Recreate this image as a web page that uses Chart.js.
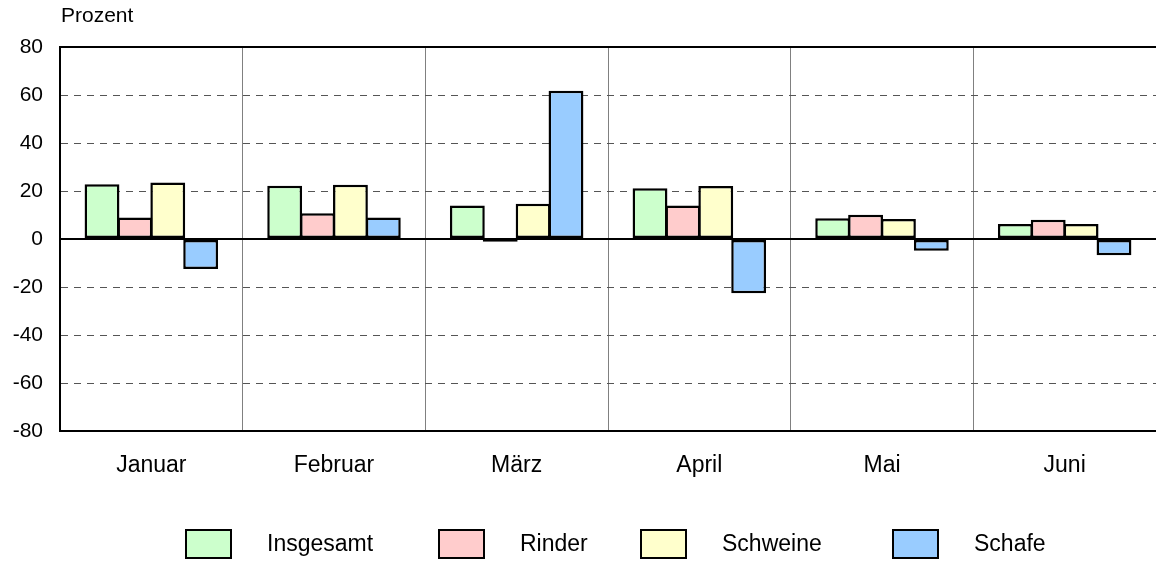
<!DOCTYPE html>
<html>
<head>
<meta charset="utf-8">
<script src="https://cdn.jsdelivr.net/npm/chart.js@4.4.1/dist/chart.umd.min.js"></script>
<style>
html, body { margin: 0; padding: 0; background: #fff; }
#wrap { position: relative; width: 1156px; height: 562px; }
</style>
</head>
<body>
<div id="wrap"><canvas id="c"></canvas></div>
<script>
const categories = ['Januar', 'Februar', 'März', 'April', 'Mai', 'Juni'];
const seriesNames = ['Insgesamt', 'Rinder', 'Schweine', 'Schafe'];
const insgesamt = [22.8, 22.2, 14.0, 21.1, 8.6, 6.2];
const rinder    = [9.0, 10.7, -1.1, 14.0, 10.1, 8.0];
const schweine  = [23.5, 22.6, 14.7, 22.1, 8.3, 6.2];
const schafe    = [-12.5, 9.0, 61.8, -22.6, -4.9, -6.8];
const yTicks = [-80, -60, -40, -20, 0, 20, 40, 60, 80];
const axisTitle = 'Prozent';

const colors = ['#CCFFCC', '#FFCCCC', '#FFFFCC', '#99CCFF'];
const seriesValues = [insgesamt, rinder, schweine, schafe];

Chart.defaults.font.family = "'Liberation Sans', Arial, sans-serif";
Chart.defaults.color = '#000';

const solidVals = v => v === 0 || v === 80 || v === -80;

const extras = {
  id: 'extras',
  afterDraw(chart) {
    const ctx = chart.ctx;
    const area = chart.chartArea;
    ctx.save();
    // axis title
    ctx.fillStyle = '#000';
    ctx.font = "21px 'Liberation Sans', Arial, sans-serif";
    ctx.textAlign = 'left';
    ctx.textBaseline = 'middle';
    ctx.fillText(axisTitle, area.left + 1, 16);
    // legend
    const boxX = [185, 438, 640, 892];
    const boxY = 529, boxW = 47, boxH = 30;
    ctx.font = "23px 'Liberation Sans', Arial, sans-serif";
    chart.data.datasets.forEach((ds, i) => {
      ctx.fillStyle = ds.backgroundColor;
      ctx.fillRect(boxX[i], boxY, boxW, boxH);
      ctx.strokeStyle = '#000';
      ctx.lineWidth = 2;
      ctx.strokeRect(boxX[i] + 1, boxY + 1, boxW - 2, boxH - 2);
      ctx.fillStyle = '#000';
      ctx.fillText(ds.label, boxX[i] + 82, boxY + boxH / 2 + 1);
    });
    ctx.restore();
  }
};

new Chart(document.getElementById('c'), {
  type: 'bar',
  data: {
    labels: categories,
    datasets: seriesNames.map((name, i) => ({
      label: name,
      data: seriesValues[i],
      backgroundColor: colors[i],
      borderColor: '#000',
      borderWidth: 2.5,
      borderSkipped: false,
      categoryPercentage: 0.72,
      barPercentage: 1.06
    }))
  },
  options: {
    responsive: true,
    maintainAspectRatio: false,
    animation: false,
    devicePixelRatio: 1,
    layout: { padding: { top: 47, left: 0, right: 0, bottom: 0 } },
    plugins: { legend: { display: false }, tooltip: { enabled: false } },
    scales: {
      x: {
        afterFit(scale) { scale.height = 131; },
        grid: {
          color: c => c.type === 'tick' ? '#808080' : 'rgba(0,0,0,0)',
          lineWidth: 1, offset: true, drawTicks: false
        },
        border: { display: true, color: '#000', width: 2 },
        ticks: { font: { size: 23 }, padding: 21, maxRotation: 0 }
      },
      y: {
        min: -80,
        max: 80,
        afterFit(scale) { scale.width = 60; },
        afterBuildTicks(scale) { scale.ticks = yTicks.map(v => ({ value: v })); },
        grid: {
          drawTicks: false,
          color: c => solidVals(c.tick.value) ? '#000' : '#555',
          lineWidth: c => solidVals(c.tick.value) ? 2 : 1
        },
        border: {
          display: true, color: '#000', width: 2,
          dash: c => (c.tick && solidVals(c.tick.value)) ? [] : [7, 6]
        },
        ticks: { font: { size: 21 }, padding: 17 }
      }
    }
  },
  plugins: [extras]
});
</script>
</body>
</html>
